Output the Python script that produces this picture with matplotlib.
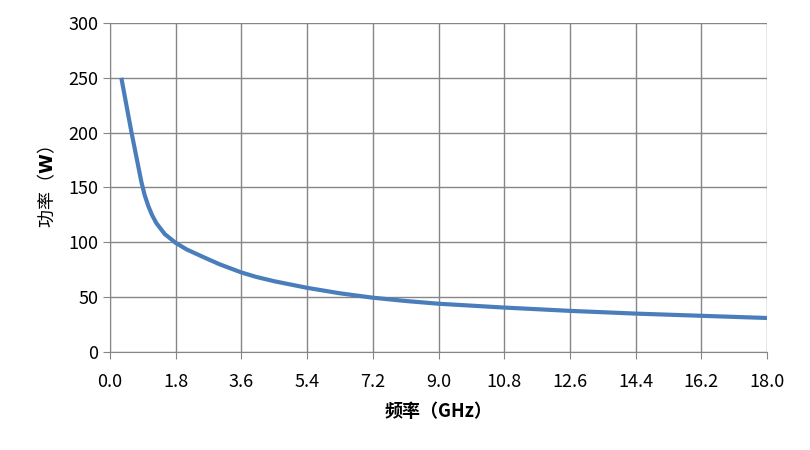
import numpy as np
import matplotlib.pyplot as plt

plt.rcParams['font.family'] = ['Noto Sans CJK SC', 'DejaVu Sans']

# frequency (GHz) and power (W)
freq = [0.31, 0.45, 0.59, 0.74, 0.86, 0.95, 1.05, 1.15, 1.27, 1.5,
        1.8, 2.1, 2.56, 3.0, 3.6, 4.0, 4.5, 5.4, 6.3, 7.2, 8.1, 9.0, 10.8, 12.6, 14.4, 16.2, 18.0]
power = [250, 225, 200, 175, 155, 143, 133, 125, 117.5, 107.5,
         99.5, 93.5, 86.5, 80, 72.5, 68.5, 64.5, 58.5, 53.5, 49.5, 46.5, 44, 40.5, 37.5, 35, 33, 31]

xticks = np.round(np.arange(0, 18.01, 1.8), 1)
yticks = [0, 50, 100, 150, 200, 250, 300]

fig = plt.figure(figsize=(8.1, 4.5), dpi=100)
ax = fig.add_axes([0.1358, 0.2178, 0.8112, 0.7312])

ax.plot(freq, power, color='#4a7ebb', lw=3, solid_capstyle='butt', solid_joinstyle='round', zorder=3)

ax.set_xlim(0, 18)
ax.set_ylim(0, 300)
ax.set_xticks(xticks)
ax.set_xticklabels(['%.1f' % v for v in xticks])
ax.set_yticks(yticks)
ax.grid(True, color='#868686', lw=1)
for s in ['top', 'right']:
    ax.spines[s].set_visible(False)
for s in ['left', 'bottom']:
    ax.spines[s].set_color('#868686')
ax.tick_params(axis='both', colors='#868686', labelcolor='black', labelsize=13, length=5)
ax.tick_params(axis='x', pad=10)

ax.set_xlabel('频率（GHz）', fontsize=13, fontweight='bold', labelpad=8)
ax.set_ylabel('功率（$\\mathbf{W}$）', fontsize=13, labelpad=8)

fig.savefig('out.png', dpi=100)
